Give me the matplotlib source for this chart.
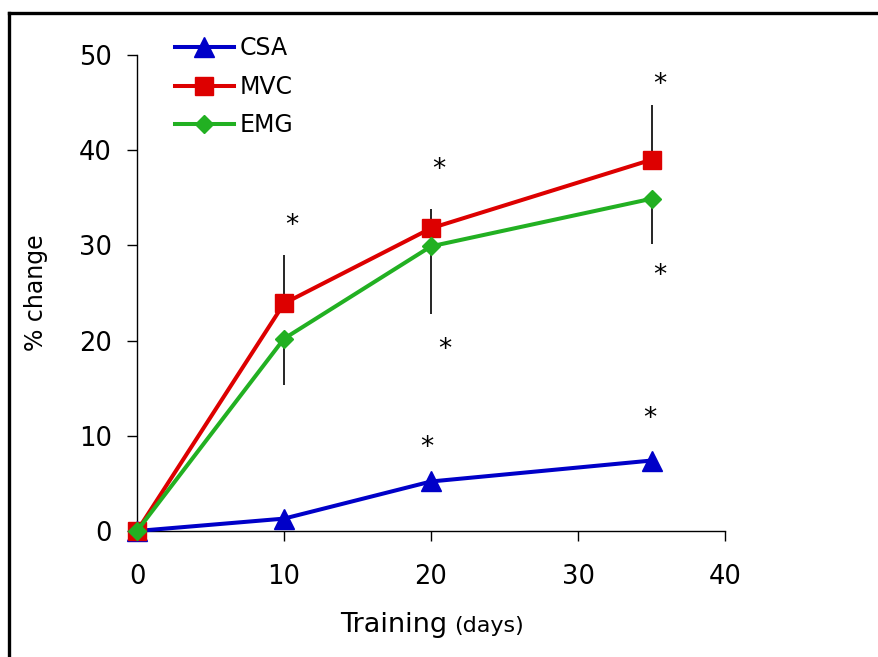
import matplotlib
matplotlib.use('Agg')
import matplotlib.pyplot as plt
from matplotlib.lines import Line2D

# ---------------- DATA ---------------- #
days = [0, 10, 20, 35]

csa = [0, 1.3, 5.2, 7.4]
mvc = [0, 23.9, 31.8, 39.0]
emg = [0, 20.2, 29.9, 34.9]

# one-sided error bars: MVC upward, EMG downward
mvc_err_up = [0, 5.1, 2.0, 5.7]
emg_err_down = [0, 4.9, 7.1, 4.8]

# significance markers (x, y)
star_x = [10.5, 20.5, 20.95, 35.6, 35.6, 19.7, 34.9]
star_y = [32.0, 37.9, 19.0, 46.8, 26.8, 8.7, 11.8]

labels = ['CSA', 'MVC', 'EMG']
colors = ['#0000c8', '#dd0000', '#22b022']

# ---------------- PLOT ---------------- #
fig = plt.figure(figsize=(8.79, 6.57), dpi=100)
ax = fig.add_axes([0.1559, 0.1918, 0.6689, 0.7245])

zeros = [0] * len(days)
ax.errorbar(days, mvc, yerr=[zeros, mvc_err_up], fmt='none', ecolor='black',
            elinewidth=1.2, capsize=0, zorder=1)
ax.errorbar(days, emg, yerr=[emg_err_down, zeros], fmt='none', ecolor='black',
            elinewidth=1.2, capsize=0, zorder=1)

lw = 2.9
ax.plot(days, csa, color=colors[0], lw=lw, marker='^', ms=14,
        clip_on=False, zorder=3)
ax.plot(days, mvc, color=colors[1], lw=lw, marker='s', ms=12.5,
        clip_on=False, zorder=4)
ax.plot(days, emg, color=colors[2], lw=lw, marker='D', ms=9,
        clip_on=False, zorder=5)

for x, y in zip(star_x, star_y):
    ax.text(x, y, '*', fontsize=19, ha='center', va='center')

ax.set_xlim(0, 40)
ax.set_ylim(0, 50)
ax.set_xticks([0, 10, 20, 30, 40])
ax.set_yticks([0, 10, 20, 30, 40, 50])
ax.tick_params(axis='x', length=7, width=1, labelsize=18.5, pad=17)
ax.tick_params(axis='y', length=7, width=1, labelsize=18.5, pad=11)

ax.spines['top'].set_visible(False)
ax.spines['right'].set_visible(False)
ax.spines['left'].set_linewidth(1)
ax.spines['bottom'].set_linewidth(1)

ax.set_ylabel('% change', fontsize=17, labelpad=22)
fig.text(0.509, 0.038, 'Training', fontsize=19.5, ha='right', va='baseline')
fig.text(0.517, 0.038, '(days)', fontsize=16, ha='left', va='baseline')

handles = [
    Line2D([], [], color=colors[0], lw=lw, marker='^', ms=14),
    Line2D([], [], color=colors[1], lw=lw, marker='s', ms=12.5),
    Line2D([], [], color=colors[2], lw=lw, marker='D', ms=9),
]
ax.legend(handles, labels, loc='upper left', bbox_to_anchor=(0.199, 0.945),
          bbox_transform=fig.transFigure, frameon=False, fontsize=17,
          handlelength=2.5, handletextpad=0.25, labelspacing=0.62,
          borderpad=0, borderaxespad=0)

# outer frame (top and left edges)
fig.add_artist(Line2D([0.0108, 1.0], [0.980, 0.980], color='black', lw=2.4,
                      transform=fig.transFigure))
fig.add_artist(Line2D([0.0108, 0.0108], [0.0, 0.980], color='black', lw=2.4,
                      transform=fig.transFigure))

fig.savefig('out.png', dpi=100)
